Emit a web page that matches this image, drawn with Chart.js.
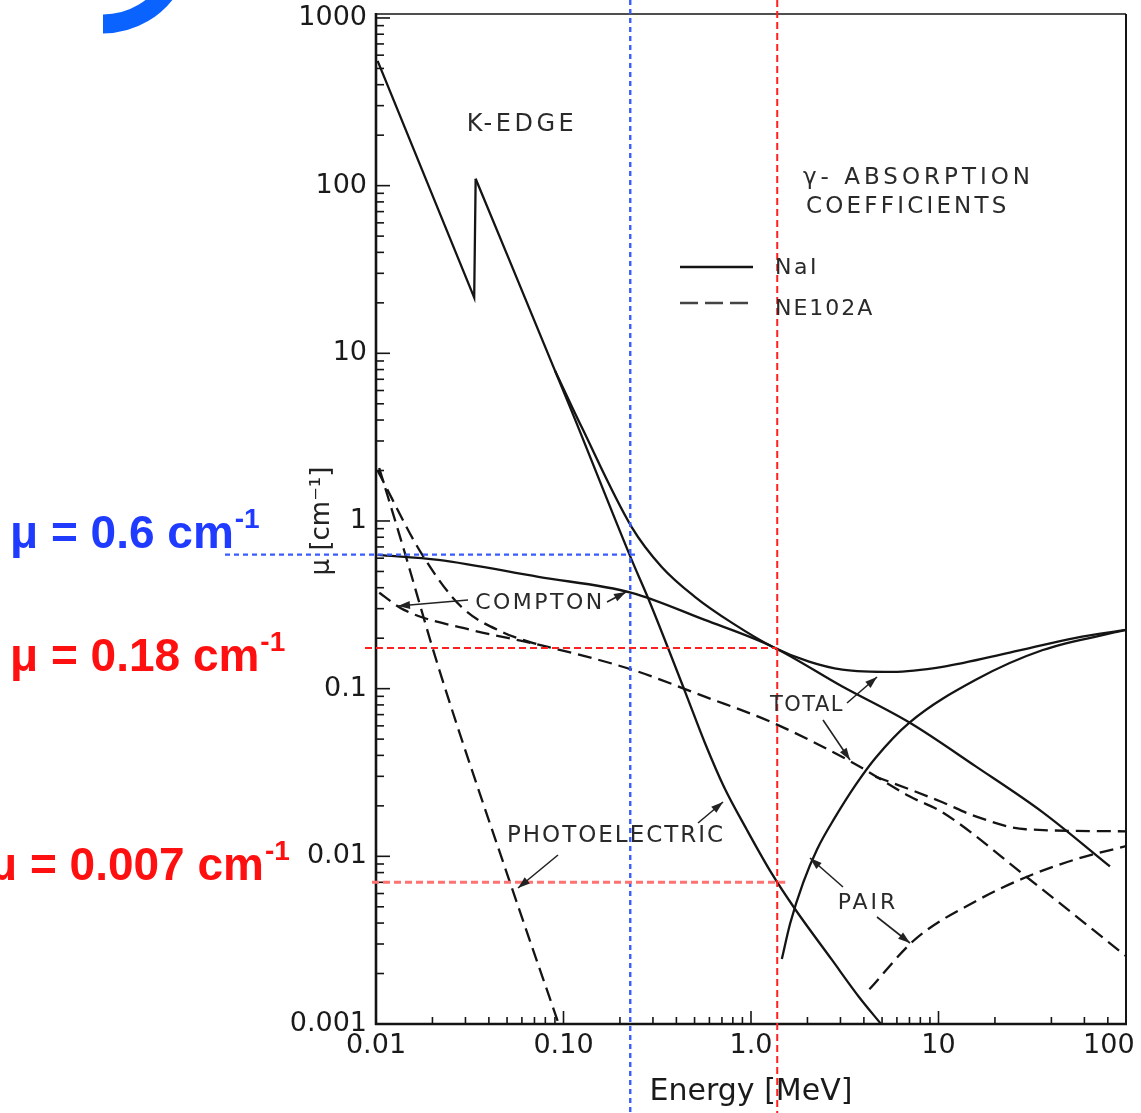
<!DOCTYPE html>
<html>
<head>
<meta charset="utf-8">
<script src="https://cdn.jsdelivr.net/npm/chart.js@4.4.1/dist/chart.umd.min.js"></script>
<style>
html, body { margin: 0; padding: 0; background: #fff; }
</style>
</head>
<body>
<canvas id="myChart" width="1141" height="1113"></canvas>
<script>
/* ----------- data section (energy in MeV, mu in cm-1) ---- */
// NaI, solid lines
const naiEdgeE  = [0.0102, 0.0334, 0.0340]          // photoelectric up to the K-edge
const naiEdgeMu = [555, 21.5, 110]
const naiPhotoE  = [0.0340, 0.110, 0.231, 0.285, 0.448, 0.568, 0.718, 0.952, 1.294, 1.717, 2.704, 3.767, 4.90]
const naiPhotoMu = [110, 4.58, 0.586, 0.339, 0.0941, 0.0474, 0.0259, 0.01435, 0.00785, 0.00485, 0.00241, 0.00145, 0.00101]
const naiTotalE  = [0.090, 0.125, 0.231, 0.334, 0.502, 0.80, 1.30, 2.04, 3.07, 5.68, 10.5, 24.0, 54.0, 100]
const naiTotalMu = [7.9, 3.63, 0.920, 0.532, 0.353, 0.245, 0.178, 0.145, 0.130, 0.126, 0.135, 0.164, 0.201, 0.224]
const naiComptonE  = [0.0102, 0.0215, 0.0735, 0.231, 0.567, 1.30, 3.07, 7.00, 15.8, 36.0, 82.1]
const naiComptonMu = [0.628, 0.586, 0.464, 0.373, 0.257, 0.178, 0.103, 0.0628, 0.0344, 0.0183, 0.00871]
const naiPairE  = [1.46, 1.62, 1.90, 2.25, 2.80, 3.60, 4.60, 7.00, 15.8, 36.0, 100]
const naiPairMu = [0.00244, 0.0040, 0.0070, 0.0110, 0.0170, 0.0265, 0.0385, 0.0628, 0.113, 0.170, 0.224]

// NE102A, dashed lines
const nePhotoE  = [0.0104, 0.0141, 0.0215, 0.0527, 0.094]
const nePhotoMu = [2.07, 0.671, 0.135, 0.00662, 0.00101]
const neTotalLowE  = [0.0102, 0.0174, 0.0285, 0.0483, 0.0735]
const neTotalLowMu = [2.0, 0.645, 0.308, 0.215, 0.183]
const neTotalHighE  = [4.60, 7.00, 10.5, 15.8, 29.2, 100]
const neTotalHighMu = [0.0299, 0.0251, 0.0210, 0.0173, 0.0145, 0.0141]
const neComptonE  = [0.0104, 0.0141, 0.0322, 0.0735, 0.231, 0.567, 1.30, 3.47, 7.00, 10.5, 29.2, 100]
const neComptonMu = [0.373, 0.295, 0.224, 0.183, 0.130, 0.0896, 0.0628, 0.0363, 0.0228, 0.0183, 0.0076, 0.00254]
const nePairE  = [4.28, 7.53, 15.8, 29.2, 54.0, 100]
const nePairMu = [0.00161, 0.00321, 0.00540, 0.0075, 0.00960, 0.0115]

// marked reference values
const refEnergy = [0.227, 1.38]          // blue, red
const refMu = [0.63, 0.175, 0.007]       // blue, red, red

// tick labels, one per decade
const xTickLabels = ['0.01', '0.10', '1.0', '10', '100\u2007\u2007']
const yTickLabels = ['0.001', '0.01', '0.1', '1', '10', '100', '1000']

const pts = (xs, ys) => xs.map((x, i) => ({ x: x, y: ys[i] }))

function decade(v, labels, first) {
    const e = Math.log10(v)
    const r = Math.round(e)
    if (Math.abs(e - r) > 1e-6) return ''
    return labels[r - first] || ''
}

const INK = '#141414'
const FONT = '"DejaVu Sans"'
Chart.defaults.font.family = FONT

function solid(xs, ys, smooth) {
    return { data: pts(xs, ys), borderColor: INK, borderWidth: 2.3, showLine: true, pointRadius: 0,
             cubicInterpolationMode: smooth ? 'monotone' : 'default', tension: 0 }
}
function dashed(xs, ys) {
    const d = solid(xs, ys, true)
    d.borderDash = [14, 7]
    return d
}

/* ----------- everything drawn on top of the plot ---- */
function line(ctx, x1, y1, x2, y2) {
    ctx.beginPath(); ctx.moveTo(x1, y1); ctx.lineTo(x2, y2); ctx.stroke()
}
function arrow(ctx, x1, y1, x2, y2) {
    ctx.setLineDash([]); ctx.lineWidth = 1.6; ctx.strokeStyle = '#222'; ctx.fillStyle = '#222'
    line(ctx, x1, y1, x2, y2)
    const a = Math.atan2(y2 - y1, x2 - x1)
    ctx.beginPath()
    ctx.moveTo(x2, y2)
    ctx.lineTo(x2 - 12 * Math.cos(a) + 4 * Math.sin(a), y2 - 12 * Math.sin(a) - 4 * Math.cos(a))
    ctx.lineTo(x2 - 12 * Math.cos(a) - 4 * Math.sin(a), y2 - 12 * Math.sin(a) + 4 * Math.cos(a))
    ctx.closePath(); ctx.fill()
}
function label(ctx, text, x, y, size, spacing, align) {
    ctx.font = size + 'px ' + FONT
    ctx.letterSpacing = spacing + 'px'
    ctx.fillStyle = '#2a2a2a'
    ctx.textAlign = align || 'center'
    ctx.textBaseline = 'middle'
    ctx.fillText(text, x, y)
    ctx.letterSpacing = '0px'
}
function muText(ctx, base, x, y, color) {
    ctx.textAlign = 'left'; ctx.textBaseline = 'alphabetic'; ctx.fillStyle = color
    ctx.font = 'bold 46px "Liberation Sans"'
    ctx.fillText(base, x, y)
    const w = ctx.measureText(base).width
    ctx.font = 'bold 28px "Liberation Sans"'
    ctx.fillText('-1', x + w + 1, y - 20)
}

const decor = {
    id: 'decor',
    afterDatasetsDraw(chart) {
        const ctx = chart.ctx
        const xs = chart.scales.x, ys = chart.scales.y
        const a = chart.chartArea
        ctx.save()

        // frame
        ctx.strokeStyle = INK; ctx.setLineDash([])
        ctx.lineWidth = 1.5; line(ctx, a.left, a.top, a.right, a.top)
        ctx.lineWidth = 2; line(ctx, a.right, a.top, a.right, a.bottom)
        ctx.lineWidth = 2.6
        line(ctx, a.left, a.top - 1, a.left, a.bottom + 1)
        line(ctx, a.left - 1, a.bottom, a.right + 1, a.bottom)

        // inward tick marks
        ctx.lineWidth = 1.6
        for (let e = -3; e <= 2; e++) {
            for (let k = 1; k <= 9; k++) {
                const py = ys.getPixelForValue(k * Math.pow(10, e))
                line(ctx, a.left, py, a.left + (k === 1 ? 14 : 8), py)
            }
        }
        let py0 = ys.getPixelForValue(1000)
        line(ctx, a.left, py0, a.left + 14, py0)
        for (let e = -2; e <= 1; e++) {
            const ks = e === 1 ? [1, 2, 4, 6, 8] : [1, 2, 3, 4, 5, 6, 7, 8, 9]
            ks.forEach(k => {
                const px = xs.getPixelForValue(k * Math.pow(10, e))
                line(ctx, px, a.bottom, px, a.bottom - (k === 1 ? 13 : 7))
            })
        }

        // reference lines
        const bx = xs.getPixelForValue(refEnergy[0])
        const rx = xs.getPixelForValue(refEnergy[1])
        ctx.lineWidth = 2.4; ctx.strokeStyle = '#3a5cff'; ctx.setLineDash([5, 4])
        line(ctx, bx, 0, bx, 1113)
        line(ctx, 225, ys.getPixelForValue(refMu[0]), bx + 6, ys.getPixelForValue(refMu[0]))
        ctx.lineWidth = 2; ctx.strokeStyle = '#ff2020'; ctx.setLineDash([7, 4])
        line(ctx, rx, 0, rx, 1113)
        line(ctx, 365, ys.getPixelForValue(refMu[1]), rx, ys.getPixelForValue(refMu[1]))
        ctx.lineWidth = 3; ctx.strokeStyle = '#ff7272'; ctx.setLineDash([7, 4])
        line(ctx, 372, ys.getPixelForValue(refMu[2]), rx + 8, ys.getPixelForValue(refMu[2]))
        ctx.setLineDash([])

        // curve names and arrows
        label(ctx, 'K-EDGE', 522, 125, 24, 3.5)
        label(ctx, 'γ- ABSORPTION', 803, 178, 23, 4, 'left')
        label(ctx, 'COEFFICIENTS', 806, 207, 23, 3.2, 'left')
        label(ctx, 'COMPTON', 540, 603, 22, 2.5)
        arrow(ctx, 468, 600, 398, 606)
        arrow(ctx, 607, 602, 626, 592)
        label(ctx, 'TOTAL', 807, 706, 21, 1.5)
        arrow(ctx, 847, 703, 877, 677)
        arrow(ctx, 823, 720, 850, 760)
        label(ctx, 'PHOTOELECTRIC', 616, 836, 23, 2)
        arrow(ctx, 558, 855, 518, 888)
        arrow(ctx, 698, 823, 723, 802)
        label(ctx, 'PAIR', 868, 903, 22, 3)
        arrow(ctx, 843, 887, 810, 858)
        arrow(ctx, 877, 917, 910, 943)

        // legend
        ctx.strokeStyle = INK; ctx.lineWidth = 2.5
        line(ctx, 680, 267, 753, 267)
        ctx.setLineDash([18, 7]); ctx.strokeStyle = '#444'
        line(ctx, 680, 303, 753, 303)
        ctx.setLineDash([])
        label(ctx, 'NaI', 775, 268, 22, 2.5, 'left')
        label(ctx, 'NE102A', 775, 309, 22, 2, 'left')

        // y axis title
        ctx.save()
        ctx.translate(322, 521); ctx.rotate(-Math.PI / 2)
        ctx.font = '26px ' + FONT; ctx.fillStyle = '#222'
        ctx.textAlign = 'center'; ctx.textBaseline = 'middle'
        ctx.fillText('μ [cm⁻¹]', 0, 0)
        ctx.restore()

        // coloured values on the left
        muText(ctx, 'μ = 0.6 cm', 10, 548, '#1f3bff')
        muText(ctx, 'μ = 0.18 cm', 10, 671, '#ff1010')
        muText(ctx, 'μ = 0.007 cm', -11, 880, '#ff1010')

        // blue swoosh in the corner
        ctx.beginPath()
        ctx.arc(103, -55, 79, Math.PI / 2, 0.5, true)
        ctx.lineWidth = 19; ctx.strokeStyle = '#0a62ff'; ctx.lineCap = 'butt'
        ctx.stroke()

        ctx.restore()
    }
}

var ctx = document.getElementById('myChart').getContext('2d')
var chart = new Chart(ctx, {
    type: 'scatter',
    data: {
        datasets: [
            solid(naiEdgeE, naiEdgeMu, false),
            solid(naiPhotoE, naiPhotoMu, true),
            solid(naiTotalE, naiTotalMu, true),
            solid(naiComptonE, naiComptonMu, true),
            solid(naiPairE, naiPairMu, true),
            dashed(nePhotoE, nePhotoMu),
            dashed(neTotalLowE, neTotalLowMu),
            dashed(neTotalHighE, neTotalHighMu),
            dashed(neComptonE, neComptonMu),
            dashed(nePairE, nePairMu)
        ]
    },
    options: {
        responsive: false,
        animation: false,
        layout: { padding: { left: 0, right: 15, top: 14, bottom: 0 } },
        plugins: { legend: { display: false }, tooltip: { enabled: false } },
        scales: {
            x: {
                type: 'logarithmic', min: 0.01, max: 100,
                grid: { display: false, drawTicks: false },
                border: { display: false },
                ticks: { autoSkip: false, maxRotation: 0, padding: 6, color: '#1a1a1a', font: { size: 27 },
                         callback: v => decade(v, xTickLabels, -2) },
                title: { display: true, text: 'Energy [MeV]', color: '#1a1a1a', font: { size: 30 }, padding: { top: 0, bottom: 3 } },
                afterFit: s => { s.height = 89; s.paddingLeft = 0; s.paddingRight = 0 }
            },
            y: {
                type: 'logarithmic', min: 0.001, max: 1056,
                grid: { display: false, drawTicks: false },
                border: { display: false },
                ticks: { autoSkip: false, padding: 9, color: '#1a1a1a', font: { size: 27 },
                         callback: v => decade(v, yTickLabels, -3) },
                afterFit: s => { s.width = 376; s.paddingTop = 0; s.paddingBottom = 0 }
            }
        }
    },
    plugins: [decor]
})
</script>
</body>
</html>
